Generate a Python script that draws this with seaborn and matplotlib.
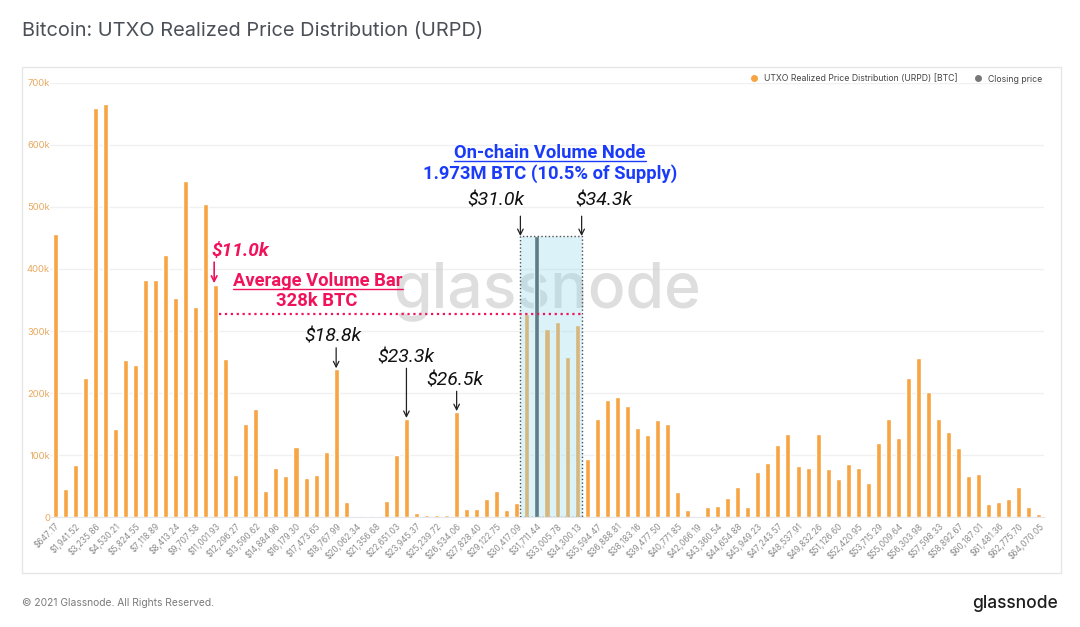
import matplotlib
matplotlib.use("Agg")
import matplotlib.pyplot as plt
from matplotlib.patches import Rectangle
from matplotlib.lines import Line2D
import numpy as np
import pandas as pd
import seaborn as sns

# URPD supply per price bucket, thousands of BTC
urpd_k = [456, 45, 84, 225, 660, 666, 142, 253, 246, 382,
          382, 422, 353, 542, 338, 504, 374, 255, 68, 150,
          174, 42, 79, 67, 113, 64, 68, 105, 239, 24,
          2, 2, 2, 27, 100, 158, 7.5, 3, 3, 3,
          169, 14, 13, 30, 42, 12, 22.5, 328, 453, 304,
          315, 258, 310, 94, 158, 189, 193, 180, 144, 133,
          157, 150, 41, 12, 2, 17, 18, 31, 48, 17,
          73, 88, 116, 134, 82, 80, 134, 78, 62, 86,
          79, 55, 120, 159, 127, 224, 257, 202, 159, 138,
          112, 67, 69, 22, 24, 30, 49, 16, 5]
closing_bin = 48

tick_labels = ["$647.17", "$1,941.52", "$3,235.86", "$4,530.21", "$5,824.55",
               "$7,118.89", "$8,413.24", "$9,707.58", "$11,001.93", "$12,296.27",
               "$13,590.62", "$14,884.96", "$16,179.30", "$17,473.65", "$18,767.99",
               "$20,062.34", "$21,356.68", "$22,651.03", "$23,945.37", "$25,239.72",
               "$26,534.06", "$27,828.40", "$29,122.75", "$30,417.09", "$31,711.44",
               "$33,005.78", "$34,300.13", "$35,594.47", "$36,888.81", "$38,183.16",
               "$39,477.50", "$40,771.85", "$42,066.19", "$43,360.54", "$44,654.88",
               "$45,949.23", "$47,243.57", "$48,537.91", "$49,832.26", "$51,126.60",
               "$52,420.95", "$53,715.29", "$55,009.64", "$56,303.98", "$57,598.33",
               "$58,892.67", "$60,187.01", "$61,481.36", "$62,775.70", "$64,070.05"]

node_start, node_end = 46.35, 52.45   # bucket positions of the highlighted node
node_top = 453000
avg_bar = 328000

ORANGE = "#F7A443"
GREY = "#3F4B52"
PINK = "#F0135C"
BLUE = "#1A3CFA"

df = pd.DataFrame({
    "bin": np.arange(len(urpd_k)),
    "btc": np.array(urpd_k) * 1000,
})
df["series"] = np.where(df["bin"] == closing_bin, "Closing price", "URPD")

sns.set_style("white")
plt.rcParams["font.family"] = ["Inter", "DejaVu Sans"]

fig = plt.figure(figsize=(10.8, 6.27), dpi=100)
ax = fig.add_axes([50 / 1080, 1 - 517.3 / 627, 994 / 1080, 434.6 / 627])

sns.barplot(data=df, x="bin", y="btc", hue="series",
            palette={"URPD": ORANGE, "Closing price": GREY},
            dodge=False, width=0.5, legend=False, ax=ax, zorder=3,
            saturation=1)

ax.set_xlim(-0.5, len(urpd_k) - 0.5)
ax.set_ylim(0, 700000)
ax.set_yticks(np.arange(0, 700001, 100000))
ax.set_yticklabels(["0"] + [f"{int(v / 1000)}k" for v in np.arange(100000, 700001, 100000)],
                   color="#E8A95F", fontsize=6.8)
ax.set_xticks(np.arange(0, len(urpd_k), 2))
ax.set_xticklabels(tick_labels, rotation=45, ha="right", rotation_mode="anchor",
                   color="#8C8C8C", fontsize=6)
ax.tick_params(axis="both", length=0, pad=3)
ax.tick_params(axis="y", pad=0)
ax.set_xlabel("")
ax.set_ylabel("")
ax.grid(axis="y", color="#F0F0F0", lw=1, zorder=0)
for s in ["top", "right", "left"]:
    ax.spines[s].set_visible(False)
ax.spines["bottom"].set_color("#E4E6EC")

# watermark
ax.text(49.0, 365000, "glassnode", fontsize=45, color="#C8C8C8", alpha=0.6,
        ha="center", va="center", zorder=1, family="Inter", fontweight="medium")

# on-chain volume node box
ax.add_patch(Rectangle((node_start, 0), node_end - node_start, node_top,
                       facecolor=(0.6, 0.86, 0.92, 0.35),
                       edgecolor=(0.3, 0.3, 0.3, 1), linestyle=":", lw=1, zorder=4))
ax.hlines(avg_bar, 16.3, node_end, colors=PINK, linestyles=":", lw=1.6, zorder=5)

arrow = dict(arrowstyle="->", color="#222222", lw=0.9, shrinkA=0, shrinkB=0)
parrow = dict(arrowstyle="->", color=PINK, lw=1.2, shrinkA=0, shrinkB=0)


def down_arrow(x, y0, y1, props):
    ax.annotate("", xy=(x, y1), xytext=(x, y0), arrowprops=props, zorder=6,
                annotation_clip=False)


txt = dict(family="Roboto", fontsize=14, style="italic", color="#111111",
           ha="center", va="center", zorder=6)
ax.text(43.9, 511000, "$31.0k", **txt)
ax.text(54.7, 511000, "$34.3k", **txt)
down_arrow(node_start, 485000, 453000, arrow)
down_arrow(node_end, 485000, 453000, arrow)
ax.text(27.7, 292000, "$18.8k", **txt)
down_arrow(28, 273000, 240000, arrow)
ax.text(34.9, 258000, "$23.3k", **txt)
down_arrow(35, 240000, 160000, arrow)
ax.text(39.8, 221000, "$26.5k", **txt)
down_arrow(40, 203000, 171000, arrow)

ax.text(15.6, 429000, "$11.0k", family="Roboto", fontsize=13.7, style="italic",
        fontweight="bold", color=PINK, ha="left", va="center", zorder=6)
down_arrow(15.85, 411000, 377000, parrow)

bold = dict(family="Roboto", fontsize=13.2, fontweight="bold", ha="center",
            va="center", zorder=6)
t_avg = ax.text(26.2, 380600, "Average Volume Bar", color=PINK, **bold)
ax.text(26.1, 348000, "328k BTC", color=PINK, **bold)
t_node = ax.text(49.3, 587000, "On-chain Volume Node", color=BLUE, **bold)
ax.text(49.3, 553000, "1.973M BTC (10.5% of Supply)", color=BLUE, **bold)

# legend
handles = [Line2D([], [], marker="o", ls="", color=ORANGE, markersize=4),
           Line2D([], [], marker="o", ls="", color="#777777", markersize=4)]
fig.legend(handles, ["UTXO Realized Price Distribution (URPD) [BTC]", "Closing price"],
           loc="center right", bbox_to_anchor=(1050 / 1080, 1 - 79 / 627), ncol=2,
           frameon=False, fontsize=6.25, handletextpad=0.1, columnspacing=1.4,
           labelcolor="#444444")

# panel frame and page text
fig.add_artist(Rectangle((22 / 1080, 1 - 573 / 627), 1039 / 1080, 506 / 627,
                         transform=fig.transFigure, fill=False,
                         edgecolor="#E6E6E6", lw=1, zorder=0))
fig.text(22 / 1080, 1 - 31 / 627, "Bitcoin: UTXO Realized Price Distribution (URPD)",
         fontsize=14.4, color="#4B5058", va="center", ha="left")
fig.text(22 / 1080, 1 - 603 / 627, "\u00a9 2021 Glassnode. All Rights Reserved.",
         fontsize=7.4, color="#7A7A7A", va="center", ha="left")
fig.text(1058 / 1080, 1 - 603 / 627, "glassnode", fontsize=12.5, color="#1E1E1E",
         va="center", ha="right", fontweight="medium")

# underline the two headings
fig.canvas.draw()
renderer = fig.canvas.get_renderer()
inv = fig.transFigure.inverted()
for t, col in [(t_avg, PINK), (t_node, BLUE)]:
    bb = t.get_window_extent(renderer)
    (x0, y0), (x1, _) = inv.transform([(bb.x0, bb.y0 + 1), (bb.x1, bb.y0)])
    fig.add_artist(Line2D([x0, x1], [y0, y0], transform=fig.transFigure,
                          color=col, lw=1))

fig.savefig("out.png", dpi=100)
